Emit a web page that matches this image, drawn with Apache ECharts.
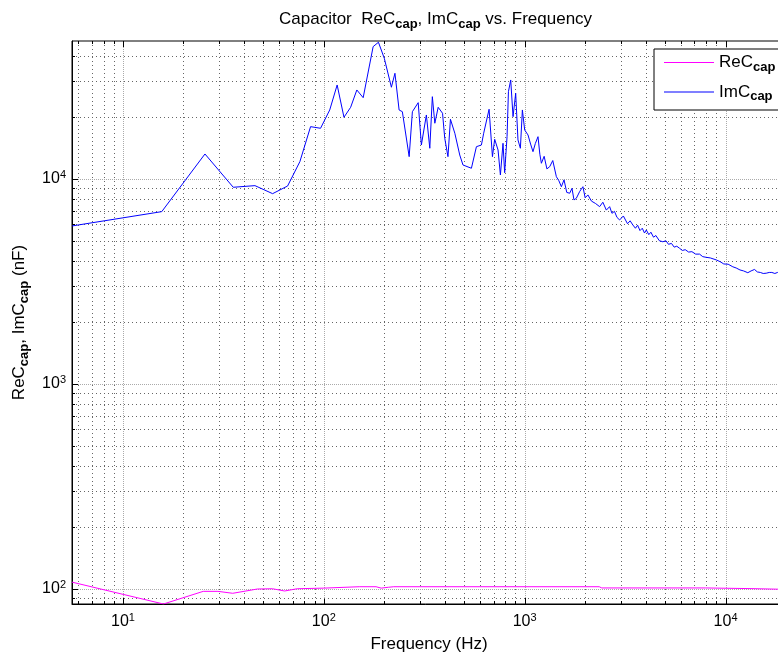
<!DOCTYPE html>
<html>
<head>
<meta charset="utf-8">
<title>Capacitor ReC / ImC vs. Frequency</title>
<script src="https://cdn.jsdelivr.net/npm/echarts@6/dist/echarts.min.js"></script>
<style>
  html, body { margin: 0; padding: 0; background: #fff; }
  #chart { width: 778px; height: 656px; }
</style>
</head>
<body>
<div id="chart"></div>
<script>
// axis limits (both axes log10)
const xMin = 5.575, xMax = 20000;
const yMin = 84.5, yMax = 47100;
const xDecades = [10, 100, 1000, 10000];
const yDecades = [100, 1000, 10000];

// ReC_cap (nF)
const recFreq = [5.58, 15.9, 25.1, 29.7, 35.2, 46.7, 55.5, 63.8, 73.7, 100, 150, 182, 193, 210, 223, 2350, 2420, 7950, 8100, 13700, 14000, 20000];
const recVals = [108, 84.5, 97.4, 97.4, 95.3, 100, 100.3, 97.8, 100.3, 101, 102.6, 102.6, 101, 102, 102.6, 102.6, 101.2, 101.2, 100.4, 100.4, 99.6, 99.6];

// ImC_cap (nF)
const imcFreq = [5.58, 15.6, 25.6, 35.4, 45.4, 55.6, 66, 76, 85.9, 96.3, 107, 116.5, 126, 136, 146, 157, 176, 187, 200, 217,
  226, 237, 246, 266, 276, 295, 306, 324, 337, 347, 357, 371, 390, 400, 415, 427, 449, 475, 493, 543,
  575, 609, 625, 665, 691, 709, 737, 757, 780, 795, 817, 830, 852, 875, 902, 926, 952, 974, 1000, 1039,
  1070, 1100, 1130, 1165, 1190, 1211, 1250, 1290, 1332, 1380, 1438, 1480, 1523, 1570, 1620, 1675, 1720, 1760, 1808, 1880,
  1950, 2000, 2065, 2150, 2250, 2361, 2450, 2550, 2648, 2720, 2800, 2880, 2969, 3100, 3250, 3350, 3458, 3560, 3650, 3750,
  3850, 3950, 4033, 4150, 4250, 4380, 4500, 4680, 4875, 5050, 5200, 5380, 5550, 5720, 5904, 6100, 6300, 6550, 6800, 7100,
  7425, 7700, 8000, 8400, 8989, 9400, 9800, 10300, 10870, 11300, 11800, 12300, 12910, 13400, 13940, 14400, 14900, 15400, 15940, 16500,
  17000, 17600, 18150, 20000];
const imcVals = [5900, 6930, 13240, 9110, 9280, 8480, 9240, 12150, 18000, 17670, 21710, 28740, 20000, 22370, 27170, 24920, 44200, 46450, 38800, 28020,
  32780, 21710, 21290, 12850, 21290, 23560, 14650, 20520, 14120, 25200, 18700, 22370, 20920, 15790, 12850, 19550, 16710, 13090, 11700, 11280,
  14370, 14650, 16710, 21880, 12850, 15620, 13850, 10460, 14930, 10730, 16080, 26660, 30410, 20130, 26180, 15500, 14120, 21710, 17340, 16390,
  14800, 13590, 14900, 16080, 13200, 11930, 12900, 11200, 11480, 12300, 10260, 9800, 9170, 9900, 8600, 8520, 9000, 7900, 8050, 8700,
  9170, 8100, 8360, 7800, 7600, 7330, 7700, 7050, 7330, 6800, 6950, 6500, 6310, 6600, 6050, 6250, 5960, 5750, 5950, 5600,
  5750, 5450, 5640, 5350, 5500, 5200, 5300, 5000, 4940, 5000, 4800, 4850, 4650, 4700, 4590, 4480, 4520, 4400, 4420, 4300,
  4300, 4180, 4150, 4120, 4030, 3950, 3850, 3840, 3730, 3680, 3600, 3560, 3490, 3560, 3620, 3520, 3500, 3460, 3470, 3500,
  3500, 3460, 3500, 3500];

const FONT = 'Liberation Sans, Arial, Helvetica, sans-serif';

// 2..9 multiples inside (lo, hi)
function minorTicks(lo, hi) {
  const out = [];
  for (let d = 1; d <= 1e5; d *= 10) {
    for (let k = 2; k <= 9; k++) {
      const v = k * d;
      if (v > lo && v < hi) out.push(v);
    }
  }
  return out;
}

// [x, y, isYAxis, isMajor]
const frameData = []
  .concat(xDecades.map(v => [v, yMin, 0, 1]))
  .concat(minorTicks(xMin, xMax).map(v => [v, yMin, 0, 0]))
  .concat(yDecades.map(v => [xMin, v, 1, 1]))
  .concat(minorTicks(yMin, yMax).map(v => [xMin, v, 1, 0]));

function renderFrame(params, api) {
  const cs = params.coordSys;
  const p = api.coord([api.value(0), api.value(1)]);
  const isY = api.value(2) === 1;
  const major = api.value(3) === 1;
  const len = major ? 6 : 3;
  const gridStyle = { stroke: major ? '#aaa' : '#666', lineWidth: 1, lineDash: major ? [1, 1] : [1, 3] };
  const tickStyle = { stroke: '#000', lineWidth: 1 };
  const children = [];
  if (!isY) {
    const x = Math.round(p[0]) + 0.5;
    const top = cs.y, bot = cs.y + cs.height;
    children.push({ type: 'line', shape: { x1: x, y1: top, x2: x, y2: bot }, style: gridStyle });
    children.push({ type: 'line', shape: { x1: x, y1: bot, x2: x, y2: bot - len }, style: tickStyle });
    children.push({ type: 'line', shape: { x1: x, y1: top, x2: x, y2: top + len }, style: tickStyle });
  } else {
    const y = Math.round(p[1]) + 0.5;
    const left = cs.x, right = cs.x + cs.width;
    children.push({ type: 'line', shape: { x1: left, y1: y, x2: right, y2: y }, style: gridStyle });
    children.push({ type: 'line', shape: { x1: left, y1: y, x2: left + len, y2: y }, style: tickStyle });
    children.push({ type: 'line', shape: { x1: right, y1: y, x2: right - len, y2: y }, style: tickStyle });
  }
  return { type: 'group', children: children };
}

// label only the powers of ten, as 10^n
function powLabel(value) {
  const n = Math.log10(value);
  const r = Math.round(n);
  if (Math.abs(n - r) > 1e-6) return '';
  return '{b|10}{s|' + r + '}';
}

const supRich = {
  b: { fontSize: 16, lineHeight: 20, fontFamily: FONT, color: '#000' },
  s: { fontSize: 11, lineHeight: 11, verticalAlign: 'top', fontFamily: FONT, color: '#000' }
};

const subRich = function (size, lh) {
  return {
    a: { fontSize: size, lineHeight: lh || size + 6, fontWeight: 'normal', fontFamily: FONT, color: '#000' },
    c: { fontSize: size - 4, lineHeight: size - 4, verticalAlign: 'bottom', fontWeight: 'bold', fontFamily: FONT, color: '#000' }
  };
};

const chart = echarts.init(document.getElementById('chart'), null, { renderer: 'canvas' });

chart.setOption({
  animation: false,
  backgroundColor: '#fff',
  title: {
    text: '{a|Capacitor  ReC}{c|cap}{a|, ImC}{c|cap}{a| vs. Frequency}',
    left: 274,
    top: 3,
    textStyle: { fontWeight: 'normal', rich: subRich(17) }
  },
  legend: {
    left: 654,
    top: 49,
    orient: 'vertical',
    icon: 'rect',
    itemWidth: 50,
    itemHeight: 1,
    itemGap: 10,
    padding: [5, 8, 7, 10],
    borderColor: '#000',
    borderWidth: 1,
    backgroundColor: '#fff',
    formatter: function (name) { return '{a|' + name + '}{c|cap}'; },
    textStyle: { rich: subRich(17, 22) },
    data: ['ReC', 'ImC']
  },
  grid: {
    left: 72,
    top: 41,
    right: -8,
    bottom: 52,
    outerBoundsMode: 'none',
    containLabel: false,
    show: true,
    borderColor: '#000',
    borderWidth: 1,
    backgroundColor: '#fff'
  },
  xAxis: {
    type: 'log',
    logBase: 10,
    min: xMin,
    max: xMax,
    name: 'Frequency (Hz)',
    nameLocation: 'middle',
    nameGap: 32,
    nameTextStyle: { fontSize: 17, fontFamily: FONT, color: '#000' },
    axisLine: { show: true, lineStyle: { color: '#000', width: 1 } },
    axisTick: { show: false },
    splitLine: { show: false },
    axisLabel: { formatter: powLabel, margin: 8, rich: supRich, showMinLabel: false, showMaxLabel: false }
  },
  yAxis: {
    type: 'log',
    logBase: 10,
    min: yMin,
    max: yMax,
    name: '{a|ReC}{c|cap}{a|, ImC}{c|cap}{a| (nF)}',
    nameLocation: 'middle',
    nameRotate: 90,
    nameGap: 41,
    nameTextStyle: { rich: subRich(17) },
    axisLine: { show: true, lineStyle: { color: '#000', width: 1 } },
    axisTick: { show: false },
    splitLine: { show: false },
    axisLabel: { formatter: powLabel, margin: 6, rich: supRich, showMinLabel: false, showMaxLabel: false }
  },
  series: [
    {
      name: 'frame',
      type: 'custom',
      renderItem: renderFrame,
      data: frameData,
      silent: true,
      z: 1
    },
    {
      name: 'ReC',
      type: 'line',
      data: recFreq.map((f, i) => [f, recVals[i]]),
      symbol: 'none',
      color: '#ff00ff',
      lineStyle: { color: '#ff00ff', width: 1 },
      z: 3
    },
    {
      name: 'ImC',
      type: 'line',
      data: imcFreq.map((f, i) => [f, imcVals[i]]),
      symbol: 'none',
      color: '#0000ff',
      lineStyle: { color: '#0000ff', width: 1 },
      z: 3
    }
  ]
});

window.addEventListener('resize', () => chart.resize());
</script>
</body>
</html>
